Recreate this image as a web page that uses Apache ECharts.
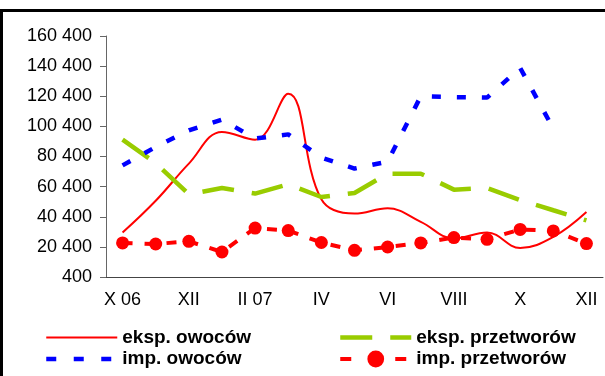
<!DOCTYPE html>
<html>
<head>
<meta charset="utf-8">
<script src="https://cdn.jsdelivr.net/npm/echarts@6/dist/echarts.min.js"></script>
<style>
html,body{margin:0;padding:0;background:#fff;}
#chart_show{width:605px;height:376px;}
</style>
</head>
<body>
<div id="chart_show"></div>
<script>
// miesiace X 2006 - XII 2007
var aCategory = ['X 06','XI','XII','I','II 07','III','IV','V','VI','VII','VIII','IX','X','XI','XII'];
var aEkspOwocow = [29900, 51000, 75700, 96700, 91500, 122000, 52000, 42500, 46000, 37000, 26000, 29900, 19700, 27000, 43500];
var aEkspPrzetworow = [91600, 76000, 55300, 59500, 55800, 62000, 53500, 56200, 69000, 69000, 58400, 59500, 51500, 44700, 38000];
var aImpOwocow = [74500, 86700, 97800, 104900, 92300, 95100, 79700, 72400, 77000, 120400, 119800, 119500, 139200, 98900, null];
var aImpPrzetworow = [23000, 22300, 24100, 17000, 32900, 31200, 23300, 18100, 20300, 23000, 26600, 25400, 32000, 31000, 22600];
var yMin = 400, yMax = 160400, yStep = 20000;

var sFont = '"Liberation Sans", Arial, sans-serif';
var noSymbol = {color: 'rgba(0,0,0,0)', borderColor: 'rgba(0,0,0,0)', borderWidth: 0};

function fmt(v){
  return String(v).replace(/\B(?=(\d{3})+(?!\d))/g, ' ');
}

var oChart = echarts.init(document.getElementById('chart_show'));
var oOpt = {
  animation: false,
  textStyle: {fontFamily: sFont, color: '#000'},
  graphic: [
    {type: 'rect', shape: {x: 0, y: 9, width: 605, height: 3}, style: {fill: '#000'}},
    {type: 'rect', shape: {x: 0, y: 9, width: 3, height: 367}, style: {fill: '#000'}},
    {type: 'text', x: 90, y: -8, style: {text: '(tony)', font: '17px ' + sFont, fill: '#000', verticalAlign: 'middle'}}
  ],
  grid: {left: 106, right: 2, top: 36, bottom: 99},
  legend: [
    {
      orient: 'vertical', left: 44, top: 328, padding: 0,
      itemWidth: 71, itemHeight: 21, itemGap: 2.5,
      textStyle: {fontSize: 19, fontWeight: 'bold', color: '#000', fontFamily: sFont},
      data: [
        {name: 'eksp. owoców', itemStyle: noSymbol, lineStyle: {width: 2, type: 'solid'}},
        {name: 'imp. owoców', itemStyle: noSymbol, lineStyle: {width: 4.5, type: [10, 17.5], cap: 'butt'}}
      ]
    },
    {
      orient: 'vertical', left: 338, top: 328, padding: 0,
      itemWidth: 71, itemHeight: 21, itemGap: 2.5,
      textStyle: {fontSize: 19, fontWeight: 'bold', color: '#000', fontFamily: sFont},
      data: [
        {name: 'eksp. przetworów', itemStyle: noSymbol, lineStyle: {width: 4.5, type: [32, 18], cap: 'butt'}},
        {name: 'imp. przetworów', lineStyle: {width: 4, type: [11, 44], cap: 'butt'}}
      ]
    }
  ],
  xAxis: {
    type: 'category',
    data: aCategory,
    boundaryGap: true,
    axisLine: {lineStyle: {color: '#444'}},
    axisTick: {interval: 0, length: 6, lineStyle: {color: '#444'}},
    axisLabel: {interval: 1, fontSize: 18, color: '#000', margin: 14, fontFamily: sFont}
  },
  yAxis: {
    type: 'value',
    min: yMin, max: yMax, interval: yStep,
    splitLine: {show: false},
    axisLine: {show: true, lineStyle: {color: '#666'}},
    axisTick: {show: true, length: 6, lineStyle: {color: '#666'}},
    axisLabel: {fontSize: 18, color: '#000', margin: 14, fontFamily: sFont, formatter: fmt}
  },
  series: [
    {
      name: 'eksp. owoców', type: 'line', data: aEkspOwocow,
      smooth: 0.4, symbol: 'none',
      itemStyle: {color: '#ff0000'},
      lineStyle: {color: '#ff0000', width: 2}
    },
    {
      name: 'eksp. przetworów', type: 'line', data: aEkspPrzetworow,
      symbol: 'none',
      itemStyle: {color: '#99cc00'},
      lineStyle: {color: '#99cc00', width: 4.5, type: [32, 18], cap: 'butt'}
    },
    {
      name: 'imp. owoców', type: 'line', data: aImpOwocow,
      symbol: 'none',
      itemStyle: {color: '#0000ff'},
      lineStyle: {color: '#0000ff', width: 4.5, type: [9, 16], cap: 'butt'}
    },
    {
      name: 'imp. przetworów', type: 'line', data: aImpPrzetworow,
      symbol: 'circle', symbolSize: 13,
      itemStyle: {color: '#ff0000'},
      lineStyle: {color: '#ff0000', width: 4, type: [10, 12], cap: 'butt'}
    }
  ]
};
oChart.setOption(oOpt);
</script>
</body>
</html>
